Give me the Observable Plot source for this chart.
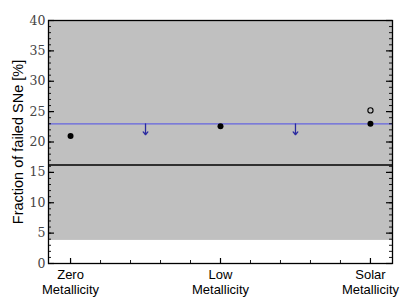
<!DOCTYPE html>
<html>
<head>
<meta charset="utf-8">
<script src="https://cdn.jsdelivr.net/npm/d3@7"></script>
<script src="https://cdn.jsdelivr.net/npm/@observablehq/plot@0.6"></script>
<style>
  body { margin: 0; background: #fff; }
  #chart { width: 416px; height: 308px; }
</style>
</head>
<body>
<div id="chart"></div>
<script>
// Categories and their x positions
const categories = ["Zero\nMetallicity", "Low\nMetallicity", "Solar\nMetallicity"];
const catPos = [0, 1, 2];
// Filled points (fraction of failed SNe, %)
const filledValues = [21.0, 22.6, 23.0];
// Open point (solar only)
const openPos = [2];
const openValues = [25.2];
// Reference lines
const blueLine = 23.0;
const blackLine = 16.2;
// Shaded band
const bandLow = 3.8;
const bandHigh = 40;
// Upper-limit arrows
const arrowPos = [0.5, 1.5];
const arrowFrom = [23.0, 23.0];
const arrowTo = [21.2, 21.2];
// Axis ticks
const yMajor = d3.range(0, 41, 5);
const yMinor = d3.range(0, 41, 1);
const xMinor = d3.range(-0.2, 2.21, 0.2).filter(v => v > -0.15 && v < 2.15);
const xDomain = [-0.147, 2.147];
const yDomain = [0, 40];

const W = 416, H = 308;
const mL = 48, mR = 24, mT = 20, mB = 45;
const fW = W - mL - mR, fH = H - mT - mB;

const filled = catPos.map((x, i) => ({x, y: filledValues[i]}));
const open = openPos.map((x, i) => ({x, y: openValues[i]}));
const arrows = arrowPos.map((x, i) => ({x, y1: arrowFrom[i], y2: arrowTo[i]}));
const band = [{x1: xDomain[0], x2: xDomain[1], y1: bandLow, y2: bandHigh}];
const cats = catPos.map((x, i) => ({x, label: categories[i]}));

const chart = Plot.plot({
  width: W, height: H,
  marginLeft: mL, marginRight: mR, marginTop: mT, marginBottom: mB,
  x: {domain: xDomain, axis: null},
  y: {domain: yDomain, axis: null},
  style: {background: "#fff"},
  marks: [
    Plot.rect(band, {x1: "x1", x2: "x2", y1: "y1", y2: "y2", fill: "#c0c0c0"}),
    Plot.ruleY([blackLine], {stroke: "#000", strokeWidth: 1.5}),
    Plot.ruleY([blueLine], {stroke: "#6464e0", strokeWidth: 1.3}),
    Plot.arrow(arrows, {x1: "x", x2: "x", y1: "y1", y2: "y2", stroke: "#2a2aa0", strokeWidth: 1.3, headLength: 7, headAngle: 80, bend: 0}),
    Plot.dot(filled, {x: "x", y: "y", r: 3, fill: "#000"}),
    Plot.dot(open, {x: "x", y: "y", r: 2.6, stroke: "#000", fill: "none", strokeWidth: 1.1}),
    // left ticks
    Plot.ruleY(yMajor, {insetRight: fW - 6, stroke: "#000", strokeWidth: 1.2}),
    Plot.ruleY(yMinor, {insetRight: fW - 3, stroke: "#000", strokeWidth: 0.9}),
    // right ticks
    Plot.ruleY(yMajor, {insetLeft: fW - 6, stroke: "#000", strokeWidth: 1.2}),
    Plot.ruleY(yMinor, {insetLeft: fW - 3, stroke: "#000", strokeWidth: 0.9}),
    // bottom ticks
    Plot.ruleX(catPos, {insetTop: fH - 5, stroke: "#000", strokeWidth: 1.2}),
    Plot.ruleX(xMinor, {insetTop: fH - 3, stroke: "#000", strokeWidth: 0.9}),
    // frame
    Plot.frame({stroke: "#000", strokeWidth: 1.3}),
    // y tick labels
    Plot.text(yMajor, {x: xDomain[0], y: d => d, text: d => String(d), textAnchor: "end", dx: -3, fontSize: 12.5, fontFamily: "DejaVu Serif, serif", fill: "#444", clip: false}),
    // x category labels
    Plot.text(cats, {x: "x", text: "label", frameAnchor: "bottom", dy: 30, fontSize: 13, lineHeight: 1.12, fontFamily: "Liberation Sans, Arial, sans-serif", fill: "#000"}),
    // y axis title
    Plot.text(["Fraction of failed SNe [%]"], {frameAnchor: "left", textAnchor: "middle", dx: -30, rotate: -90, fontSize: 14.5, fontFamily: "Liberation Sans, Arial, sans-serif", fill: "#000"})
  ]
});
document.getElementById("chart").appendChild(chart);
</script>
</body>
</html>
